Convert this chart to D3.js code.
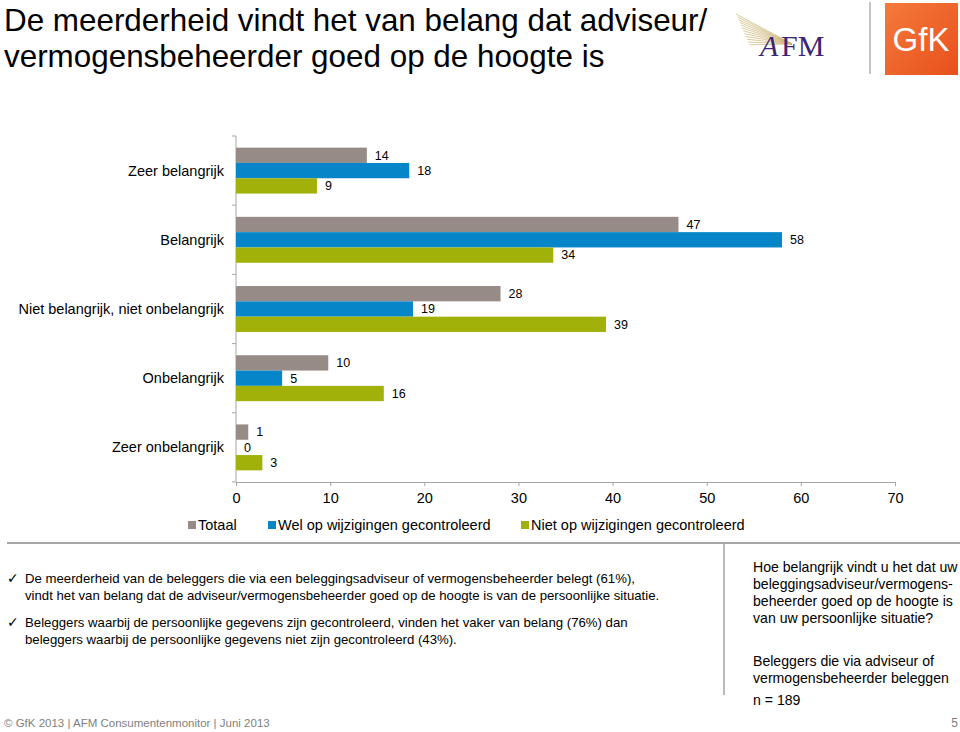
<!DOCTYPE html>
<html><head><meta charset="utf-8">
<script src="https://cdn.jsdelivr.net/npm/d3@7/dist/d3.min.js"></script>
<style>
html,body{margin:0;padding:0;background:#fff;}
svg{display:block;font-family:"Liberation Sans",Arial,sans-serif;}
</style></head>
<body>
<script>
const categories = ["Zeer belangrijk","Belangrijk","Niet belangrijk, niet onbelangrijk","Onbelangrijk","Zeer onbelangrijk"];
const seriesNames = ["Totaal","Wel op wijzigingen gecontroleerd","Niet op wijzigingen gecontroleerd"];
const totaal = [13.9, 47.0, 28.1, 9.8, 1.3];
const wel    = [18.4, 58.0, 18.8, 4.9, 0.0];
const niet   = [8.6, 33.7, 39.3, 15.7, 2.8];
const xTicks = [0,10,20,30,40,50,60,70];
const colors = ["#968b86","#0686c9","#a2b10a"];
const titleLines = ["De meerderheid vindt het van belang dat adviseur/","vermogensbeheerder goed op de hoogte is"];
const bullets = [
 ["De meerderheid van de beleggers die via een beleggingsadviseur of vermogensbeheerder belegt (61%),",
  "vindt het van belang dat de adviseur/vermogensbeheerder goed op de hoogte is van de persoonlijke situatie."],
 ["Beleggers waarbij de persoonlijke gegevens zijn gecontroleerd, vinden het vaker van belang (76%) dan",
  "beleggers waarbij de persoonlijke gegevens niet zijn gecontroleerd (43%)."]
];
const questionLines = ["Hoe belangrijk vindt u het dat uw","beleggingsadviseur/vermogens-","beheerder goed op de hoogte is","van uw persoonlijke situatie?"];
const baseLines = ["Beleggers die via adviseur of","vermogensbeheerder beleggen"];
const nText = "n = 189";
const footerText = "© GfK 2013 | AFM Consumentenmonitor | Juni 2013";
const pageNo = "5";

const seriesValues = [totaal, wel, niet];
const data = categories.map((c,i)=>({cat:c, vals: seriesNames.map((s,j)=>({s, j, v: seriesValues[j][i]}))}));

const W=960,H=732;
const svg = d3.select("body").append("svg").attr("width",W).attr("height",H);

// Title
svg.append("g").selectAll("text").data(titleLines).join("text")
  .attr("x",4).attr("y",(d,i)=>31+i*36).attr("font-size",31.4).attr("fill","#000").text(d=>d);

// Logos
const logo = svg.append("g");
const fan = d3.range(12);
logo.selectAll("line.f").data(fan).join("line")
  .attr("x1",792).attr("y1",44)
  .attr("x2",(d)=>736+d*1.2).attr("y2",(d)=>14+d*2.8)
  .attr("stroke","#c9ae6a").attr("stroke-width",0.8).attr("opacity",0.8);
logo.append("text").attr("x",760).attr("y",56).attr("font-family","Liberation Serif,serif")
  .attr("font-size",30).attr("fill","#3a2673").attr("font-style","italic").text("A");
logo.append("text").attr("x",781).attr("y",56).attr("font-family","Liberation Serif,serif")
  .attr("font-size",30).attr("fill","#3a2673").text("FM");
logo.append("line").attr("x1",870).attr("x2",870).attr("y1",2).attr("y2",74).attr("stroke","#b0b0b0").attr("stroke-width",1.5);
const grad = svg.append("defs").append("linearGradient").attr("id","gfk").attr("x1","0").attr("y1","0").attr("x2","1").attr("y2","1");
grad.append("stop").attr("offset","0").attr("stop-color","#f47a3a");
grad.append("stop").attr("offset","1").attr("stop-color","#e8501c");
logo.append("rect").attr("x",885).attr("y",3).attr("width",73).attr("height",72).attr("fill","url(#gfk)");
logo.append("text").attr("x",921).attr("y",51).attr("text-anchor","middle").attr("font-size",33)
  .attr("fill","#fff").attr("font-family","Liberation Sans Narrow,Liberation Sans,sans-serif").text("GfK");

// Chart
const x = d3.scaleLinear().domain([0,70]).range([236,895]);
const y0 = d3.scaleBand().domain(categories).range([136,482]).padding(0);
const y1 = d3.scaleBand().domain(seriesNames).range([0,y0.bandwidth()]).paddingInner(0).paddingOuter(0.76);
const chart = svg.append("g");

const xa = chart.append("g").attr("transform","translate(0,482)")
  .call(d3.axisBottom(x).tickValues(xTicks).tickSize(4).tickPadding(7).tickSizeOuter(0));
xa.select(".domain").attr("stroke","#a6a6a6");
xa.selectAll(".tick line").attr("stroke","#a6a6a6");
xa.selectAll(".tick text").attr("font-size",14.5).attr("fill","#000").attr("font-family","Liberation Sans,Arial,sans-serif");

// y axis line and ticks at band boundaries
chart.append("line").attr("x1",236).attr("x2",236).attr("y1",136).attr("y2",482).attr("stroke","#a6a6a6");
const bounds = categories.map(c=>y0(c)).concat([y0.range()[1]]);
chart.selectAll("line.yt").data(bounds).join("line").attr("class","yt")
  .attr("x1",232).attr("x2",236).attr("y1",d=>d).attr("y2",d=>d).attr("stroke","#a6a6a6");
chart.selectAll("text.cat").data(categories).join("text").attr("class","cat")
  .attr("x",224).attr("y",c=>y0(c)+y0.bandwidth()/2).attr("dy","0.35em")
  .attr("text-anchor","end").attr("font-size",14.5).attr("fill","#000").text(d=>d);

const groups = chart.selectAll("g.grp").data(data).join("g").attr("class","grp")
  .attr("transform",d=>`translate(0,${y0(d.cat)})`);
groups.selectAll("rect").data(d=>d.vals).join("rect")
  .attr("x",x(0)).attr("y",d=>y1(d.s)).attr("width",d=>x(d.v)-x(0)).attr("height",y1.bandwidth())
  .attr("fill",d=>colors[d.j]);
groups.selectAll("text").data(d=>d.vals).join("text")
  .attr("x",d=>x(d.v)+8).attr("y",d=>y1(d.s)+y1.bandwidth()/2).attr("dy","0.35em")
  .attr("font-size",12.5).attr("fill","#000").text(d=>d3.format(".0f")(d.v));

// Legend
const legX = [188,268,521];
const leg = svg.append("g").selectAll("g").data(seriesNames).join("g")
  .attr("transform",(d,i)=>`translate(${legX[i]},521)`);
leg.append("rect").attr("width",8).attr("height",8).attr("fill",(d,i)=>colors[i]);
leg.append("text").attr("x",10).attr("y",4).attr("dy","0.36em").attr("font-size",14.5).attr("fill","#000").text(d=>d);

// Separator lines
svg.append("line").attr("x1",7).attr("x2",960).attr("y1",543).attr("y2",543).attr("stroke","#a6a6a6").attr("stroke-width",2);
svg.append("line").attr("x1",724).attr("x2",724).attr("y1",543).attr("y2",695).attr("stroke","#a6a6a6").attr("stroke-width",1.5);

// Bullets
const bl = svg.append("g");
bullets.forEach((b,i)=>{
  const by = 583 + i*44;
  bl.append("text").attr("x",7).attr("y",by).attr("font-size",14).attr("font-family","DejaVu Sans,sans-serif").text("✓");
  b.forEach((line,k)=>{
    bl.append("text").attr("x",25).attr("y",by+k*17).attr("font-size",13.2).attr("fill","#000").text(line);
  });
});

// Right box
const rb = svg.append("g").attr("font-size",14.1).attr("fill","#000");
questionLines.forEach((t,i)=>rb.append("text").attr("x",753).attr("y",572+i*17).text(t));
baseLines.forEach((t,i)=>rb.append("text").attr("x",753).attr("y",666+i*17).text(t));
rb.append("text").attr("x",753).attr("y",705).text(nText);

// Footer
svg.append("text").attr("x",4).attr("y",727).attr("font-size",11.5).attr("fill","#7f7f7f").text(footerText);
svg.append("text").attr("x",958).attr("y",727).attr("text-anchor","end").attr("font-size",12).attr("fill","#7f7f7f").text(pageNo);
</script>
</body></html>
